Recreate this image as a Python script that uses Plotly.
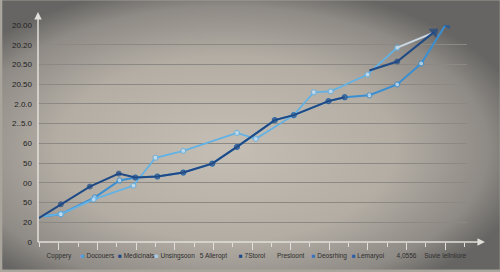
import base64
import plotly.graph_objects as go

# ---- data ----
x_labels = ["Coppery", "Docouers", "Medicinals", "Unsingsoon", "5 Alleropt", "7Storol",
            "Presloont", "Deosrhing", "Lemaryoi", "4,0556", "Suvie lellniiore"]
label_marks = [None, "#4a9fe0", "#1f4a85", "#a9cdea", None, "#1f4a85",
               None, "#3a72c0", "#2a5ea8", None, None]
y_ticklabels = ["0", "20", "50", "00", "50", "60", "2..5.0", "2.0.0",
                "20.50", "20.50", "20.20", "20.00"]

dark_x = [-0.52, 0.05, 0.80, 1.55, 1.98, 2.55, 3.22, 3.97, 4.61, 5.59, 6.08, 6.98, 7.40, 7.70, 8.04, 8.76, 9.72]
dark_y = [1.21, 1.91, 2.81, 3.47, 3.27, 3.32, 3.52, 3.97, 4.82, 6.18, 6.43, 7.14, 7.34, None, 8.69, 9.15, 10.65]

mid_x = [-0.39, 0.05, 0.93, 1.57, 1.98, 2.55, 3.22, 3.97, 4.61, 5.59, 6.08, 6.98, 7.40, 8.04, 8.76, 9.38, 10.03]
mid_y = [1.31, 1.41, 2.26, 3.12, 3.27, 3.32, 3.52, 3.97, 4.82, 6.18, 6.43, 7.14, 7.34, 7.44, 7.99, 9.05, 11.06]

light_x = [-0.39, 0.05, 0.90, 1.93, 2.50, 3.22, 4.61, 5.10, 6.08, 6.60, 7.04, 7.99, 8.76]
light_y = [1.31, 1.41, 2.16, 2.86, 4.27, 4.62, 5.53, 5.23, 6.43, 7.59, 7.64, 8.49, 9.85]

pale_x = [8.76, 9.69]
pale_y = [9.85, 10.60]

# ---- colours ----
C_DARK = "#1f4a85"
C_MID = "#3a8fd2"
C_LIGHT = "#62b2e6"
C_PALE = "#c9d8e4"

fig = go.Figure()

# medium line
n = len(mid_x)
mid_sym = ["circle"] * (n - 1) + ["triangle-up"]
mid_size = [0] + [5] * (n - 2) + [9]
mid_fill = ["#d8e8f4"] * (n - 1) + ["#1f5aa0"]
mid_edge = [C_MID] * (n - 1) + ["#1f5aa0"]
fig.add_trace(go.Scatter(x=mid_x, y=mid_y, mode="lines+markers",
                         line=dict(color=C_MID, width=2),
                         marker=dict(symbol=mid_sym, size=mid_size, color=mid_fill,
                                     line=dict(color=mid_edge, width=1.2), angleref="previous"),
                         showlegend=False, hoverinfo="skip"))

# light line
light_size = [0] + [5] * (len(light_x) - 1)
fig.add_trace(go.Scatter(x=light_x, y=light_y, mode="lines+markers",
                         line=dict(color=C_LIGHT, width=1.8),
                         marker=dict(symbol="circle", size=light_size, color="#dbe9f3",
                                     line=dict(color=C_LIGHT, width=1.2)),
                         showlegend=False, hoverinfo="skip"))

# pale segment
fig.add_trace(go.Scatter(x=pale_x, y=pale_y, mode="lines",
                         line=dict(color=C_PALE, width=2),
                         showlegend=False, hoverinfo="skip"))

# dark line
dark_sym = ["circle"] * (len(dark_x) - 1) + ["triangle-up"]
dark_size = [0] + [5] * (len(dark_x) - 2) + [9]
dark_fill = [C_DARK] * len(dark_x)
fig.add_trace(go.Scatter(x=dark_x, y=dark_y, mode="lines+markers",
                         line=dict(color=C_DARK, width=2),
                         marker=dict(symbol=dark_sym, size=dark_size, color=dark_fill,
                                     line=dict(color=C_DARK, width=1), angleref="previous"),
                         connectgaps=False,
                         showlegend=False, hoverinfo="skip"))

# tick labels with little coloured squares
ticktext = []
for lab, mk in zip(x_labels, label_marks):
    if mk:
        ticktext.append(f"<span style='color:{mk}'>■</span> {lab}")
    else:
        ticktext.append(lab)

# background gradient as svg
svg = """<svg xmlns='http://www.w3.org/2000/svg' width='500' height='272' viewBox='0 0 500 272' preserveAspectRatio='none'>
<defs><radialGradient id='g' cx='0.45' cy='0.55' r='0.62' gradientUnits='objectBoundingBox'>
<stop offset='0' stop-color='#c4beb4'/><stop offset='0.55' stop-color='#b3ada4'/>
<stop offset='0.85' stop-color='#8e8a85'/><stop offset='1' stop-color='#666563'/></radialGradient></defs>
<rect width='500' height='272' fill='url(#g)'/></svg>"""
src = "data:image/svg+xml;base64," + base64.b64encode(svg.encode()).decode()

L, R, T, B = 36, 33, 25, 28
pw, ph = 500 - L - R, 272 - T - B

fig.add_layout_image(dict(source=src, xref="paper", yref="paper",
                          x=-L / pw, y=1 + T / ph, sizex=500 / pw, sizey=272 / ph,
                          xanchor="left", yanchor="top", sizing="stretch", layer="below"))

# axis lines with arrows
AX_COL = "#e2dfda"
fig.add_shape(type="line", xref="paper", yref="paper", x0=0, y0=0, x1=(483 - L) / pw, y1=0,
              line=dict(color=AX_COL, width=1.5))
fig.add_shape(type="line", xref="paper", yref="paper", x0=0, y0=0, x1=0, y1=(244 - 14) / ph,
              line=dict(color=AX_COL, width=1.5))
fig.add_annotation(xref="paper", yref="paper", x=(485 - L) / pw, y=0, ax=-8, ay=0, text="",
                   showarrow=True, arrowhead=2, arrowsize=1, arrowwidth=1.5, arrowcolor=AX_COL)
fig.add_annotation(xref="paper", yref="paper", x=0, y=(244 - 12) / ph, ax=0, ay=8, text="",
                   showarrow=True, arrowhead=2, arrowsize=1, arrowwidth=1.5, arrowcolor=AX_COL)

fig.update_layout(
    width=500, height=272,
    margin=dict(l=L, r=R, t=T, b=B),
    paper_bgcolor="#a9a49c",
    plot_bgcolor="rgba(0,0,0,0)",
    font=dict(family="Liberation Sans, Arial, sans-serif", color="#2a2a2a"),
    xaxis=dict(range=[(36 - 57) / 38.8, (467 - 57) / 38.8], tickmode="array",
               tickvals=list(range(len(x_labels))), ticktext=ticktext,
               tickfont=dict(size=6.5, color="#2e2e2e"), tickangle=0,
               showgrid=False, zeroline=False, showline=False,
               ticks="outside", ticklen=7, tickcolor=AX_COL, tickwidth=1,
               minor=dict(tickvals=[i + 0.5 for i in range(-1, 11)], ticks="outside",
                          ticklen=4, tickcolor=AX_COL, tickwidth=1),
               fixedrange=True),
    yaxis=dict(range=[0, 11], tickmode="array", tickvals=list(range(len(y_ticklabels))),
               ticktext=y_ticklabels, tickfont=dict(size=8, color="#222222"),
               showgrid=True, gridcolor="#8c8883", gridwidth=1,
               zeroline=False, showline=False, ticks="", ticklabelstandoff=5,
               fixedrange=True),
)

fig.write_html("out.html")
